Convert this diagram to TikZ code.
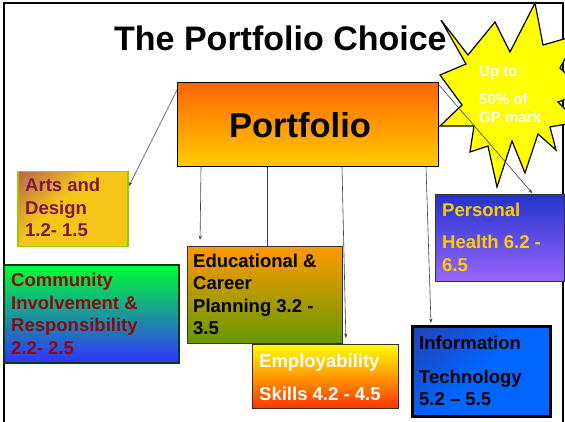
\documentclass[tikz,border=0pt]{standalone}
\usepackage{fontspec}
\setmainfont{Liberation Sans}
\usetikzlibrary{arrows.meta,calc}
\definecolor{portTop}{HTML}{FF6600}
\definecolor{portBot}{HTML}{FFCC00}
\definecolor{artsPurple}{HTML}{993366}
\definecolor{artsGold}{HTML}{F5C518}
\definecolor{artsBorder}{HTML}{99CC00}
\definecolor{artsText}{HTML}{7A1840}
\definecolor{comTop}{HTML}{00FF33}
\definecolor{comMid}{HTML}{22C8C0}
\definecolor{comBot}{HTML}{3333FF}
\definecolor{comText}{HTML}{8B0A0A}
\definecolor{comBorder}{HTML}{0A3A10}
\definecolor{eduTop}{HTML}{FF9900}
\definecolor{eduBot}{HTML}{669900}
\definecolor{empTop}{HTML}{FFFF00}
\definecolor{empBot}{HTML}{FF3300}
\definecolor{perTop}{HTML}{2233CC}
\definecolor{perBot}{HTML}{9966FF}
\definecolor{perText}{HTML}{FFCC00}
\definecolor{infoNavy}{HTML}{333399}
\definecolor{infoBlue}{HTML}{0066FF}
\definecolor{starYellow}{HTML}{FFFF00}
\definecolor{lineGray}{HTML}{404040}
\pgfdeclareverticalshading{artsshade}{100bp}{color(0bp)=(artsGold); color(58bp)=(artsGold); color(100bp)=(artsPurple)}
\pgfdeclareverticalshading{infoshade}{100bp}{color(0bp)=(infoBlue); color(50bp)=(infoBlue); color(100bp)=(infoNavy)}
\newcommand{\boxfont}{\fontsize{18.5}{22.5}\selectfont\bfseries}
\newcommand{\linesbox}[1]{\parbox[t]{200pt}{\raggedright #1}}
\begin{document}
\begin{tikzpicture}[x=1pt,y=-1pt,
  box/.style={draw, anchor=north west, inner sep=0pt, line width=1pt},
  boxtext/.style={anchor=base west, inner sep=0pt, font=\boxfont},
  conn/.style={draw=lineGray, line width=0.6pt},
  arrowconn/.style={conn, -{Stealth[length=4.5pt,width=3.2pt]}, shorten >=1pt}]
\useasboundingbox (0,0) rectangle (565,422);
\fill[white] (0,0) rectangle (565,422);
% slide frame
\draw[line width=1.8pt] (4,422) -- (4,3) -- (563,3) -- (563,422);

% title
\node[anchor=base west, inner sep=0pt, font=\fontsize{34}{40}\selectfont\bfseries] (title) at (114,51) {The Portfolio Choice};

% star
\begin{scope}
\clip (0,0) rectangle (565,422);
\draw[fill=starYellow, line width=1.2pt, line join=miter]
  (441,20) -- (468,55) -- (495,22) -- (510,52) -- (535,3) -- (543,45)
  -- (578,35) -- (560,68) -- (585,92) -- (558,102) -- (578,122) -- (550,127)
  -- (556,150) -- (538,134) -- (525,173) -- (512,141) -- (497,187) -- (488,146)
  -- (470,152) -- (474,126) -- (440,126) -- (462,105) -- (440,75) -- (466,64) -- cycle;
\end{scope}
\node[anchor=base west, inner sep=0pt, text=white, font=\fontsize{15}{18}\selectfont\bfseries] (startext) at (479,77)
  {\parbox[t]{90pt}{\raggedright Up to\\[10pt] 50\% of\\ GP mark}};

% portfolio
\node[box, minimum width=261pt, minimum height=84pt, top color=portTop, bottom color=portBot] (port) at (177,82) {};
\node[anchor=base, inner sep=0pt, font=\fontsize{34.5}{40}\selectfont\bfseries] (porttext) at (300,138) {Portfolio};

% boxes
\node[box, draw=artsBorder, line width=1.5pt, minimum width=110pt, minimum height=75pt,
  shading=artsshade, shading angle=45] (arts) at (17,171) {};
\node[boxtext, text=artsText] (artstext) at (25,192) {\linesbox{Arts and\\ Design\\ 1.2- 1.5}};

\node[box, draw=comBorder, line width=1.5pt, minimum width=175pt, minimum height=98pt,
  top color=comTop, middle color=comMid, bottom color=comBot] (com) at (3,264) {};
\node[boxtext, text=comText] (comtext) at (11,287) {\linesbox{Community\\ Involvement \&\\ Responsibility\\ 2.2- 2.5}};

\node[box, draw=black!80, minimum width=155pt, minimum height=97pt,
  top color=eduTop, bottom color=eduBot] (edu) at (187,246) {};
\node[boxtext, text=black] (edutext) at (193,267) {\linesbox{Educational \&\\ Career\\ Planning 3.2 -\\ 3.5}};

\node[box, draw=black!80, minimum width=146pt, minimum height=64pt,
  top color=empTop, bottom color=empBot] (emp) at (252,344) {};
\node[boxtext, text=white] (emptext) at (259,367) {\linesbox{Employability\\[10.5pt] Skills 4.2 - 4.5}};

\node[box, draw=black!80, minimum width=129pt, minimum height=87pt,
  top color=perTop, bottom color=perBot] (per) at (435,194) {};
\node[boxtext, text=perText] (pertext) at (442,217) {\linesbox{Personal\\[9.5pt] Health 6.2 -\\ 6.5}};

\node[box, line width=3pt, minimum width=138pt, minimum height=90pt,
  shading=infoshade, shading angle=45] (info) at (411,325) {};
\node[boxtext, text=black] (infotext) at (419,349) {\linesbox{Information\\[11.5pt] Technology\\ 5.2 -- 5.5}};

% connectors
\coordinate (pTL) at ($(port.north west)+(0,8)$);
\coordinate (pTR) at ($(port.north east)+(0,3)$);
\coordinate (artsIn) at ($(arts.north east)+(0,16)$);
\draw[arrowconn] (pTL) -- (artsIn);
\draw[arrowconn, shorten >=6pt] ($(port.south west)+(24,0)$) coordinate (pe1) -- ($(edu.north west)+(13,0)$);
\draw[conn] ($(port.south west)+(90,0)$) coordinate (pe2) -- ($(edu.north west)+(80,0)$);
\draw[arrowconn, shorten >=6pt] ($(port.south west)+(165,0)$) coordinate (pm) -- ($(emp.north west)+(94,0)$);
\draw[arrowconn] ($(port.south west)+(249,0)$) coordinate (pi) -- ($(info.north west)+(20,-1)$);
\draw[arrowconn] (pTR) -- ($(per.north west)+(98,0)$);
\end{tikzpicture}
\end{document}
